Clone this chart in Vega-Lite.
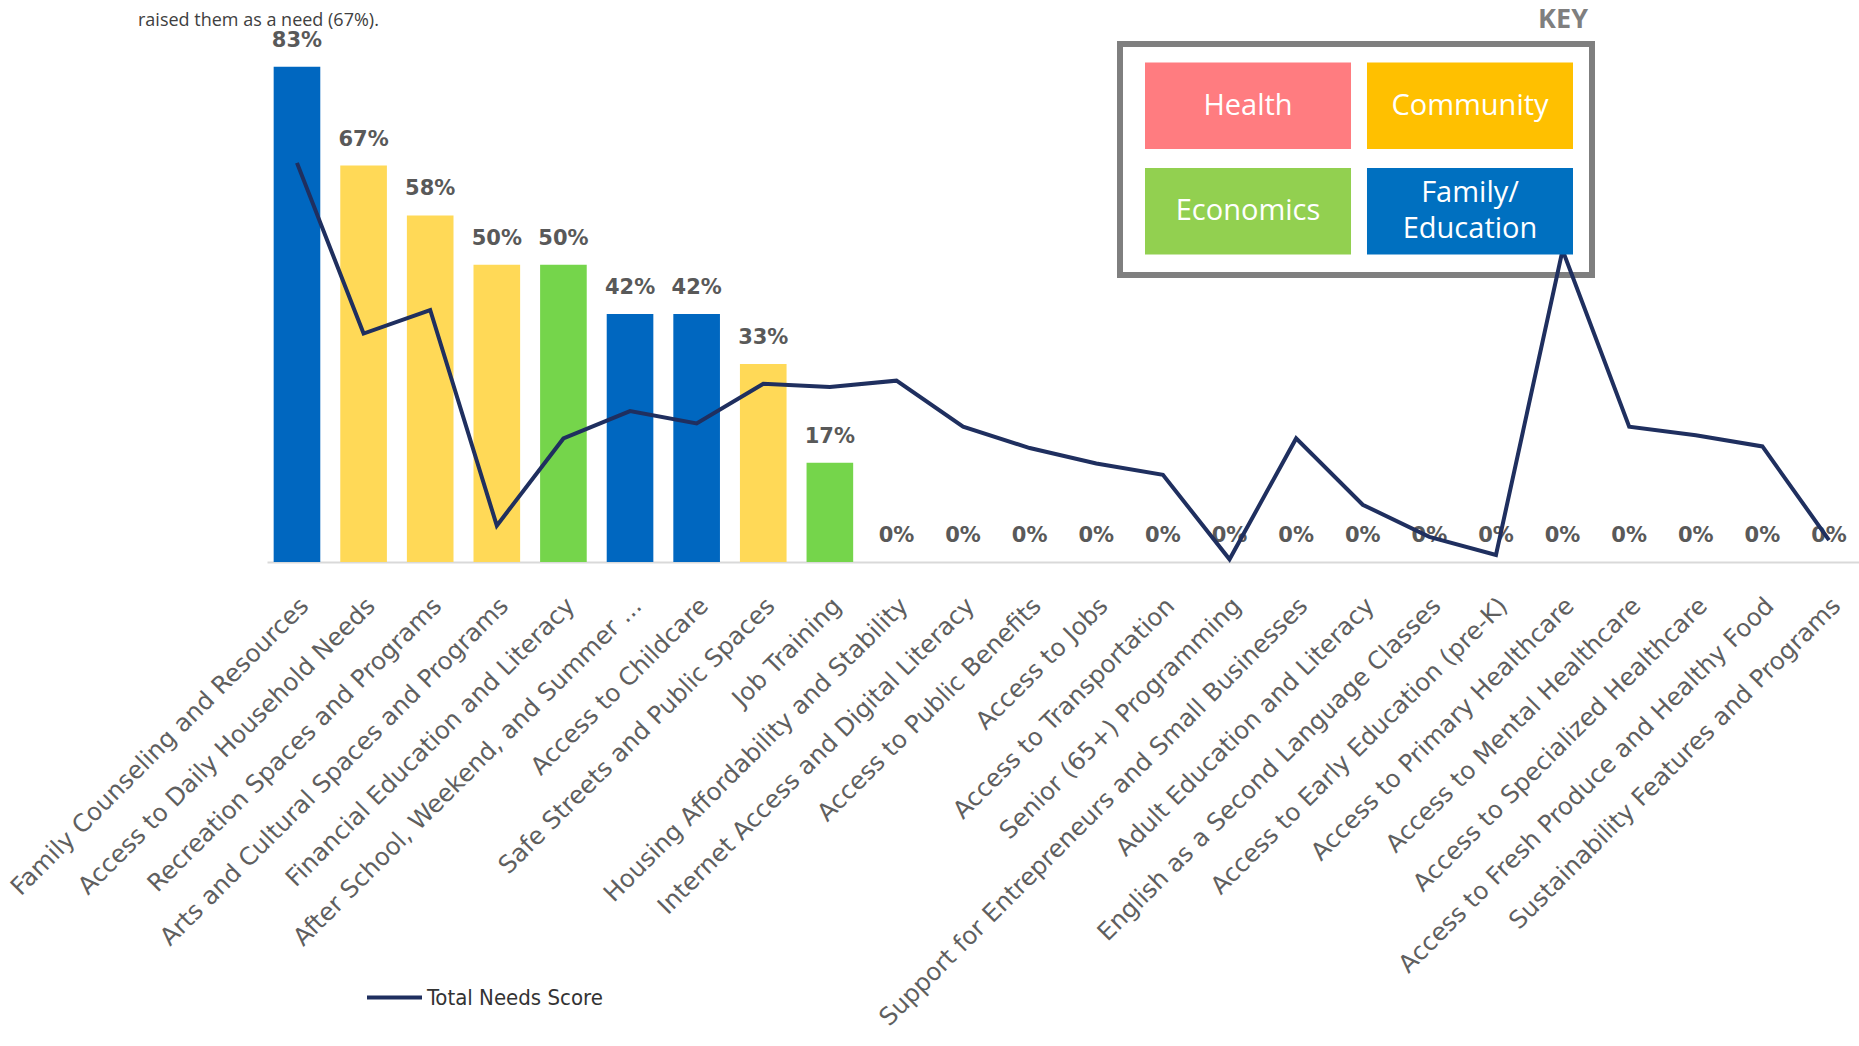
{
  "$schema": "https://vega.github.io/schema/vega-lite/v6.json",
  "width": 1592,
  "height": 535,
  "autosize": {"type": "none"},
  "padding": {"left": 267, "top": 27, "right": 0, "bottom": 484},
  "background": "white",
  "config": {"view": {"stroke": null}, "font": "DejaVu Sans"},
  "title": {
    "text": "raised them as a need (67%).",
    "anchor": "start",
    "frame": "group",
    "orient": "top",
    "dx": -129,
    "offset": -38,
    "baseline": "alphabetic",
    "font": "Open Sans",
    "fontSize": 18,
    "fontWeight": "normal",
    "color": "#404040"
  },
  "datasets": {
    "needs": [
      {"need": "Family Counseling and Resources", "category": "Family/Education", "share": 0.833, "score": 7.46},
      {"need": "Access to Daily Household Needs", "category": "Community", "share": 0.667, "score": 4.27},
      {"need": "Recreation Spaces and Programs", "category": "Community", "share": 0.583, "score": 4.71},
      {"need": "Arts and Cultural Spaces and Programs", "category": "Community", "share": 0.5, "score": 0.68},
      {"need": "Financial Education and Literacy", "category": "Economics", "share": 0.5, "score": 2.31},
      {"need": "After School, Weekend, and Summer ...", "category": "Family/Education", "share": 0.417, "score": 2.82},
      {"need": "Access to Childcare", "category": "Family/Education", "share": 0.417, "score": 2.59},
      {"need": "Safe Streets and Public Spaces", "category": "Community", "share": 0.333, "score": 3.33},
      {"need": "Job Training", "category": "Economics", "share": 0.167, "score": 3.27},
      {"need": "Housing Affordability and Stability", "category": "Community", "share": 0, "score": 3.39},
      {"need": "Internet Access and Digital Literacy", "category": "Economics", "share": 0, "score": 2.53},
      {"need": "Access to Public Benefits", "category": "Economics", "share": 0, "score": 2.13},
      {"need": "Access to Jobs", "category": "Economics", "share": 0, "score": 1.84},
      {"need": "Access to Transportation", "category": "Community", "share": 0, "score": 1.63},
      {"need": "Senior (65+) Programming", "category": "Community", "share": 0, "score": 0.05},
      {"need": "Support for Entrepreneurs and Small Businesses", "category": "Economics", "share": 0, "score": 2.31},
      {"need": "Adult Education and Literacy", "category": "Family/Education", "share": 0, "score": 1.07},
      {"need": "English as a Second Language Classes", "category": "Family/Education", "share": 0, "score": 0.47},
      {"need": "Access to Early Education (pre-K)", "category": "Family/Education", "share": 0, "score": 0.13},
      {"need": "Access to Primary Healthcare", "category": "Health", "share": 0, "score": 5.83},
      {"need": "Access to Mental Healthcare", "category": "Health", "share": 0, "score": 2.53},
      {"need": "Access to Specialized Healthcare", "category": "Health", "share": 0, "score": 2.37},
      {"need": "Access to Fresh Produce and Healthy Food", "category": "Health", "share": 0, "score": 2.16},
      {"need": "Sustainability Features and Programs", "category": "Community", "share": 0, "score": 0.41}
    ],
    "key": [
      {"group": "Health", "label": "Health", "col": "left", "row": "top", "lines": 1},
      {"group": "Community", "label": "Community", "col": "right", "row": "top", "lines": 1},
      {"group": "Economics", "label": "Economics", "col": "left", "row": "bottom", "lines": 1},
      {"group": "Family/Education", "label": "Family/\nEducation", "col": "right", "row": "bottom", "lines": 2}
    ]
  },
  "layer": [
    {
      "data": {"name": "needs"},
      "encoding": {
        "x": {
          "field": "need",
          "type": "nominal",
          "sort": null,
          "scale": {"type": "band", "paddingInner": 0.3, "paddingOuter": 0.1},
          "axis": {
            "title": null,
            "labelAngle": -45,
            "labelAlign": "right",
            "labelBaseline": "middle",
            "labelFont": "DejaVu Sans",
            "labelFontSize": 24.5,
            "labelColor": "#5f5f5f",
            "labelPadding": 40,
            "labelOffset": 8,
            "labelLimit": 0,
            "labelOverlap": false,
            "ticks": false,
            "grid": false,
            "domainColor": "#d9d9d9",
            "domainWidth": 2
          }
        },
        "y": {
          "field": "share",
          "type": "quantitative",
          "scale": {"domain": [0, 0.9], "nice": false, "zero": true},
          "axis": null
        }
      },
      "layer": [
        {
          "mark": {"type": "bar"},
          "encoding": {
            "color": {
              "field": "category",
              "type": "nominal",
              "scale": {
                "domain": ["Health", "Community", "Economics", "Family/Education"],
                "range": ["#FF7C80", "#FFD957", "#75D54B", "#0067C0"]
              },
              "legend": null
            }
          }
        },
        {
          "mark": {
            "type": "text",
            "dy": -26,
            "baseline": "middle",
            "font": "DejaVu Sans",
            "fontSize": 21,
            "fontWeight": "bold",
            "color": "#595959"
          },
          "encoding": {"text": {"field": "share", "type": "quantitative", "format": ".0%"}}
        }
      ]
    },
    {
      "data": {"values": [{"item": "KEY"}]},
      "encoding": {
        "x": {"datum": "left", "bandPosition": 0, "scale": {"type": "band", "domain": ["left", "right"], "range": [878, 1306], "paddingInner": 0.072, "paddingOuter": 0}, "axis": null},
        "y": {"datum": "top", "bandPosition": 0, "scale": {"type": "band", "domain": ["top", "bottom"], "range": [35.5, 227.5], "paddingInner": 0.18, "paddingOuter": 0}, "axis": null}
      },
      "layer": [
        {
          "mark": {"type": "rect", "filled": false, "stroke": "#7f7f7f", "strokeWidth": 6, "xOffset": -25, "x2Offset": 19, "yOffset": -18.5, "y2Offset": 20.5},
          "encoding": {
            "x2": {"datum": "right", "bandPosition": 1},
            "y2": {"datum": "bottom", "bandPosition": 1}
          }
        },
        {
          "mark": {"type": "text", "align": "right", "baseline": "middle", "dx": 221, "yOffset": -42.5, "font": "Open Sans", "fontSize": 27, "fontWeight": "bold", "color": "#7f7f7f"},
          "encoding": {
            "x": {"datum": "right", "bandPosition": 0},
            "y": {"datum": "top", "bandPosition": 0},
            "text": {"field": "item"}
          }
        }
      ]
    },
    {
      "data": {"name": "needs"},
      "mark": {"type": "line", "strokeWidth": 4},
      "encoding": {
        "x": {"field": "need", "type": "nominal", "sort": null, "scale": {"type": "band", "paddingInner": 0.3, "paddingOuter": 0.1}, "axis": null},
        "y": {"field": "score", "type": "quantitative", "scale": {"domain": [0, 10], "nice": false, "zero": true}, "axis": null},
        "stroke": {
          "datum": "Total Needs Score",
          "scale": {"range": ["#1f2f5f"]},
          "legend": {
            "orient": "none",
            "legendX": 98,
            "legendY": 941,
            "title": null,
            "padding": 0,
            "symbolType": "stroke",
            "symbolSize": 3025,
            "symbolStrokeWidth": 4,
            "labelFont": "DejaVu Sans Condensed",
            "labelFontSize": 22,
            "labelColor": "#333333",
            "labelOffset": 3,
            "labelLimit": 0
          }
        }
      }
    },
    {
      "data": {"name": "key"},
      "encoding": {
        "x": {"field": "col", "type": "nominal", "scale": {"type": "band", "domain": ["left", "right"], "range": [878, 1306], "paddingInner": 0.072, "paddingOuter": 0}, "axis": null},
        "y": {"field": "row", "type": "nominal", "scale": {"type": "band", "domain": ["top", "bottom"], "range": [35.5, 227.5], "paddingInner": 0.18, "paddingOuter": 0}, "axis": null}
      },
      "layer": [
        {
          "mark": {"type": "rect"},
          "encoding": {
            "color": {
              "field": "group",
              "type": "nominal",
              "scale": {
                "domain": ["Health", "Community", "Economics", "Family/Education"],
                "range": ["#FF7C80", "#FFC000", "#92D050", "#0070C0"]
              },
              "legend": null
            }
          }
        },
        {
          "transform": [{"filter": "datum.lines == 1"}],
          "mark": {"type": "text", "font": "Open Sans", "fontSize": 29, "color": "white", "baseline": "middle"},
          "encoding": {"text": {"field": "label"}}
        },
        {
          "transform": [{"filter": "datum.lines == 2"}],
          "mark": {"type": "text", "font": "Open Sans", "fontSize": 29, "color": "white", "lineBreak": "\n", "lineHeight": 36, "baseline": "middle", "dy": -18},
          "encoding": {"text": {"field": "label"}}
        }
      ]
    }
  ],
  "resolve": {"scale": {"x": "independent", "y": "independent", "color": "independent", "stroke": "independent"}}
}
